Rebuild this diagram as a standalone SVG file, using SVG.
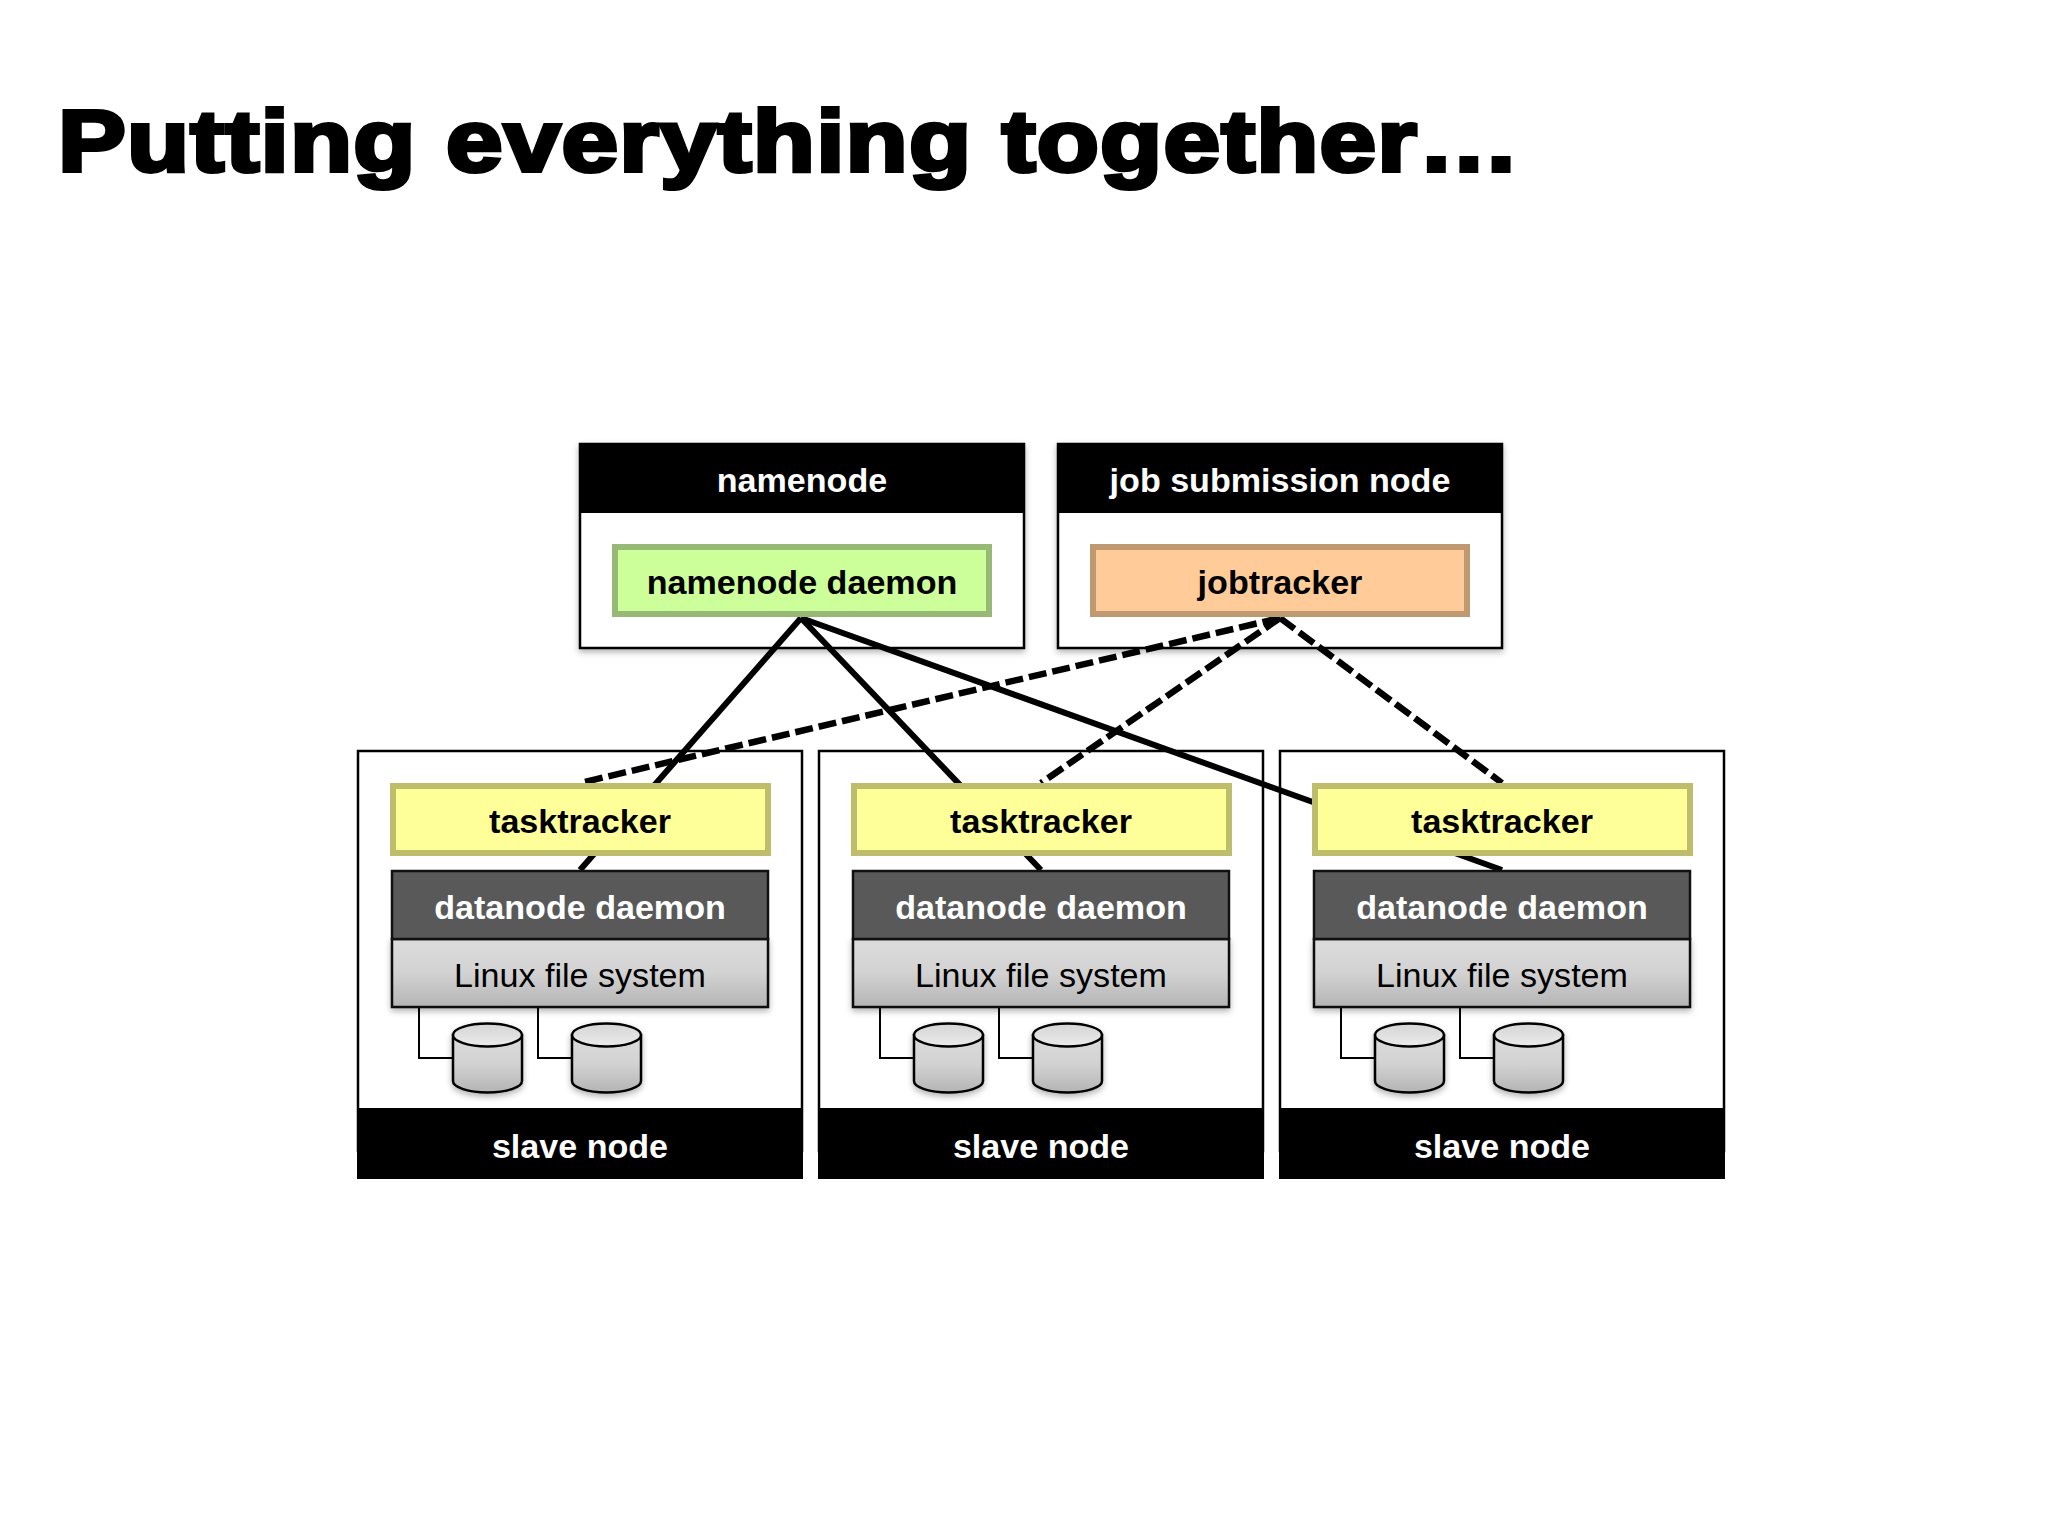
<svg xmlns="http://www.w3.org/2000/svg" width="2048" height="1536" viewBox="0 0 2048 1536">
<style>
text{font-family:"Liberation Sans",Arial,sans-serif;text-anchor:middle;font-size:34.100px}
.b{font-weight:700}
.w{fill:#fff}
.k{fill:#000}
.frame{fill:#fff;stroke:#000;stroke-width:2.500}
.head{fill:#000}
.sh{filter:url(#shadow)}
.green{fill:#ccff99;stroke:#98b975;stroke-width:6}
.orange{fill:#ffcc99;stroke:#bf9970;stroke-width:6}
.yellow{fill:#ffff99;stroke:#bdbd6b;stroke-width:6}
.dn{fill:#595959;stroke:#111;stroke-width:2.500}
.fs{fill:url(#grey);stroke:#111;stroke-width:2.500}
.disk{fill:url(#grey);stroke:#000;stroke-width:2.500}
.top{fill:url(#greyTop);stroke:#000;stroke-width:2.500}
.wire{fill:none;stroke:#000;stroke-width:2}
.solid{fill:none;stroke:#000;stroke-width:6}
.dash{fill:none;stroke:#000;stroke-width:6.500;stroke-dasharray:18 6}
</style>
<defs>
<linearGradient id="grey" x1="0" y1="0" x2="0" y2="1"><stop offset="0" stop-color="#dcdcdc"/><stop offset="0.5" stop-color="#d2d2d2"/><stop offset="1" stop-color="#b4b4b4"/></linearGradient>
<linearGradient id="greyTop" x1="0" y1="0" x2="0" y2="1"><stop offset="0" stop-color="#d4d4d4"/><stop offset="1" stop-color="#ececec"/></linearGradient>
<filter id="shadow" x="-10%" y="-10%" width="120%" height="125%"><feDropShadow dx="0" dy="3" stdDeviation="3" flood-color="#000" flood-opacity="0.3"/></filter>
</defs>
<rect width="2048" height="1536" fill="#fff"/>
<text id="title" x="58" y="171" class="b k" style="text-anchor:start;font-size:88px;stroke:#000;stroke-width:4;paint-order:stroke;letter-spacing:1px" textLength="1463" lengthAdjust="spacingAndGlyphs">Putting everything together…</text>

<g id="namenode">
<rect x="580" y="444" width="444" height="204" class="frame sh"/>
<rect x="579" y="443" width="446" height="70" class="head"/>
<text x="802" y="491.500" class="b w">namenode</text>
</g>
<g id="job-submission-node">
<rect x="1058" y="444" width="444" height="204" class="frame sh"/>
<rect x="1057" y="443" width="446" height="70" class="head"/>
<text x="1280" y="491.500" class="b w">job submission node</text>
</g>

<g id="slave-node-1">
<rect x="358" y="751" width="444" height="400" class="frame"/>
<rect x="357" y="1108" width="446" height="71" class="head"/>
<text x="580" y="1157.500" class="b w">slave node</text>
<path d="M419 1007V1058H453M538 1007V1058H572" class="wire"/>
<g class="sh"><path d="M453 1035v46a34.500 11.500 0 0 0 69 0v-46z" class="disk"/><ellipse cx="487.500" cy="1035" rx="34.500" ry="11.500" class="top"/></g>
<g class="sh"><path d="M572 1035v46a34.500 11.500 0 0 0 69 0v-46z" class="disk"/><ellipse cx="606.500" cy="1035" rx="34.500" ry="11.500" class="top"/></g>
</g>
<g id="slave-node-2">
<rect x="819" y="751" width="444" height="400" class="frame"/>
<rect x="818" y="1108" width="446" height="71" class="head"/>
<text x="1041" y="1157.500" class="b w">slave node</text>
<path d="M880 1007V1058H914M999 1007V1058H1033" class="wire"/>
<g class="sh"><path d="M914 1035v46a34.500 11.500 0 0 0 69 0v-46z" class="disk"/><ellipse cx="948.500" cy="1035" rx="34.500" ry="11.500" class="top"/></g>
<g class="sh"><path d="M1033 1035v46a34.500 11.500 0 0 0 69 0v-46z" class="disk"/><ellipse cx="1067.500" cy="1035" rx="34.500" ry="11.500" class="top"/></g>
</g>
<g id="slave-node-3">
<rect x="1280" y="751" width="444" height="400" class="frame"/>
<rect x="1279" y="1108" width="446" height="71" class="head"/>
<text x="1502" y="1157.500" class="b w">slave node</text>
<path d="M1341 1007V1058H1375M1460 1007V1058H1494" class="wire"/>
<g class="sh"><path d="M1375 1035v46a34.500 11.500 0 0 0 69 0v-46z" class="disk"/><ellipse cx="1409.500" cy="1035" rx="34.500" ry="11.500" class="top"/></g>
<g class="sh"><path d="M1494 1035v46a34.500 11.500 0 0 0 69 0v-46z" class="disk"/><ellipse cx="1528.500" cy="1035" rx="34.500" ry="11.500" class="top"/></g>
</g>

<g id="connectors">
<path d="M801 618L580 870" class="solid"/>
<path d="M801 618L1041 870" class="solid"/>
<path d="M801 618L1502 870" class="solid"/>
<path d="M1280 618L580 783" class="dash"/>
<path d="M1280 618L1041 783" class="dash"/>
<path d="M1280 618L1502 783" class="dash"/>
</g>

<g id="namenode-daemon"><rect x="615" y="547" width="374" height="67" class="green"/><text x="802" y="594" class="b k">namenode daemon</text></g>
<g id="jobtracker"><rect x="1093" y="547" width="374" height="67" class="orange"/><text x="1280" y="594" class="b k">jobtracker</text></g>

<g id="tasktracker-1"><rect x="393" y="786" width="375" height="67" class="yellow"/><text x="580" y="833" class="b k">tasktracker</text></g>
<g id="tasktracker-2"><rect x="854" y="786" width="375" height="67" class="yellow"/><text x="1041" y="833" class="b k">tasktracker</text></g>
<g id="tasktracker-3"><rect x="1315" y="786" width="375" height="67" class="yellow"/><text x="1502" y="833" class="b k">tasktracker</text></g>

<g id="datanode-1"><rect x="392" y="939" width="376" height="68" class="fs sh"/><rect x="392" y="871" width="376" height="68" class="dn"/><text x="580" y="918.500" class="b w">datanode daemon</text><text x="580" y="986.500" class="k">Linux file system</text></g>
<g id="datanode-2"><rect x="853" y="939" width="376" height="68" class="fs sh"/><rect x="853" y="871" width="376" height="68" class="dn"/><text x="1041" y="918.500" class="b w">datanode daemon</text><text x="1041" y="986.500" class="k">Linux file system</text></g>
<g id="datanode-3"><rect x="1314" y="939" width="376" height="68" class="fs sh"/><rect x="1314" y="871" width="376" height="68" class="dn"/><text x="1502" y="918.500" class="b w">datanode daemon</text><text x="1502" y="986.500" class="k">Linux file system</text></g>
</svg>
